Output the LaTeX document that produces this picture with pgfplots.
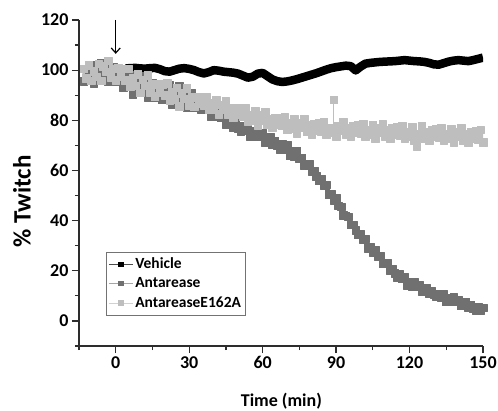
\documentclass[border=0pt]{standalone}
\usepackage{fontspec}
\setmainfont{Carlito}
\usepackage{pgfplots}
\pgfplotsset{compat=1.18}
\usetikzlibrary{arrows.meta}
\definecolor{dkgray}{RGB}{112,112,112}
\definecolor{ltgray}{RGB}{190,190,190}
\definecolor{axgray}{RGB}{45,45,45}
\begin{document}
\begin{tikzpicture}
\begin{axis}[
  scale only axis, width=404pt, height=326pt,
  xmin=-15, xmax=150, ymin=-10, ymax=120,
  axis x line*=bottom, axis y line*=left,
  axis line style={line width=1.2pt, draw=axgray, -},
  xtick={0,30,60,90,120,150}, xticklabels={0,30,60,90,120,150},
  ytick={0,20,40,60,80,100,120}, yticklabels={0,20,40,60,80,100,120},
  minor xtick={-15,15,45,75,105,135}, minor ytick={-10,10,30,50,70,90,110},
  tick align=outside,
  major tick length=7pt, minor tick length=4pt,
  every tick/.style={line width=1.2pt, axgray},
  tick label style={font=\fontsize{18}{20}\selectfont\bfseries, text=black},
  xlabel={Time (min)}, ylabel={\% Twitch},
  xlabel style={font=\fontsize{18}{20}\selectfont\bfseries, at={(axis description cs:0.501,-0.169)}, anchor=center},
  ylabel style={font=\fontsize{25}{27}\selectfont\bfseries, at={(axis description cs:-0.141,0.443)}, anchor=center},
  legend image code/.code={\draw[mark repeat=2,mark phase=2,#1] plot coordinates {(0pt,0pt) (12pt,0pt) (24pt,0pt)};},
  legend style={at={(axis description cs:0.067,0.094)}, anchor=south west, draw=black!55, line width=0.8pt,
    font=\fontsize{15.5}{17}\selectfont\bfseries, inner xsep=2pt, inner ysep=4pt, row sep=3.5pt, cells={anchor=west}},
  legend cell align=left,
]
\addlegendimage{black!70, line width=0.8pt, mark=square*, mark size=2.2pt, mark options={black}}
\addlegendentry{Vehicle}
\addlegendimage{black!35, line width=0.8pt, mark=square*, mark size=2.2pt, mark options={dkgray}}
\addlegendentry{Antarease}
\addlegendimage{black!18, line width=0.8pt, mark=square*, mark size=2.2pt, mark options={ltgray}}
\addlegendentry{AntareaseE162A}

% Antarease
\addplot[forget plot, dkgray, line width=5pt, line join=round, mark=square*, mark size=3.8pt, mark options={line width=0.5pt}] coordinates {
(-13,95.5) (-12,100.6) (-11,97.6) (-10,102.2) (-9,94.7) (-8,99.8) (-7,96.8) (-6,102.9) (-5,98.4) (-4,101.5)
(-3,95.5) (-2,98.7) (-1,101.3) (0,95.5) (1,98.9) (2,95.3) (3,93.2) (4,97.6) (5,94) (6,98.2)
(7,90.4) (8,95.1) (9,91.8) (10,97.5) (11,92.7) (12,95.4) (13,89.1) (14,92.3) (15,95) (16,89.3)
(17,93.1) (18,89.9) (19,88.2) (20,93) (21,89.8) (22,94.1) (23,86.4) (24,91.2) (25,88) (26,93.7)
(27,88.9) (28,91.6) (29,85.3) (30,88.5) (31,91) (32,85) (33,88.5) (34,85) (35,84.5) (36,86.4)
(37,84.3) (38,86) (39,81.6) (40,83.5) (41,81.4) (42,83.8) (43,81) (44,81.9) (45,78.3) (46,79.5)
(47,80.5) (48,77.3) (49,78.8) (50,76.8) (51,75.6) (52,77.7) (53,75.8) (54,77.7) (55,73.5) (56,75.6)
(57,73.7) (58,76.3) (59,73.7) (60,74.8) (61,71.3) (62,72.5) (63,73.5) (64,70.3) (65,71.8) (66,69.8)
(67,68.5) (68,70.5) (69,68.5) (70,70.3) (71,65.8) (72,67.6) (73,65.4) (74,67.7) (75,64.8) (76,65)
(77,62) (78,62.3) (79,62.5) (80,59.6) (81,59.8) (82,57.6) (83,55.9) (84,56.4) (85,54.2) (86,54.3)
(87,50.3) (88,50.7) (89,48.2) (90,48.9) (91,45.9) (92,45.6) (93,42.1) (94,41.9) (95,41.6) (96,38.3)
(97,38.4) (98,36.1) (99,34.3) (100,34.7) (101,32.5) (102,32.8) (103,29) (104,29.6) (105,27.3) (106,28.4)
(107,25.8) (108,25.9) (109,22.8) (110,23) (111,23.2) (112,20.3) (113,20.8) (114,18.9) (115,17.5) (116,18.5)
(117,16.8) (118,17.6) (119,14.3) (120,15.4) (121,13.9) (122,15.6) (123,13.6) (124,14.3) (125,11.8) (126,12.6)
(127,13.3) (128,10.9) (129,11.9) (130,10.5) (131,9.6) (132,10.9) (133,9.5) (134,10.6) (135,7.6) (136,9.1)
(137,7.7) (138,9.5) (139,7.6) (140,8.4) (141,6) (142,6.9) (143,7.7) (144,5.4) (145,6.5) (146,5.1)
(147,4.2) (148,5.5) (149,4.1) (150,5.2)
};

% AntareaseE162A
\addplot[forget plot, ltgray, line width=5pt, line join=round, mark=square*, mark size=3.8pt, mark options={line width=0.5pt}] coordinates {
(-13,100.5) (-12,96.8) (-11,102) (-10,95.8) (-9,99.5) (-8,97.3) (-7,102.5) (-6,95.8) (-5,101.5) (-4,99.4)
(-3,103.8) (-2,97.2) (-1,100.6) (0,96) (1,101) (2,97.5) (3,100.5) (4,96) (5,100.5) (6,93.6)
(7,96.7) (8,93.8) (9,98.4) (10,91) (11,96.2) (12,93.8) (13,98) (14,91.1) (15,94.3) (16,89.4)
(17,94.6) (18,91.2) (19,94.4) (20,90) (21,94.7) (22,87.9) (23,91.1) (24,88.3) (25,93) (26,85.7)
(27,90.9) (28,88.6) (29,92.8) (30,86) (31,89.1) (32,85.4) (33,89.3) (34,86.7) (35,89.2) (36,85.9)
(37,89.4) (38,84.2) (39,86.7) (40,84.5) (41,88) (42,82.4) (43,86.2) (44,84.4) (45,87.5) (46,82.3)
(47,84.7) (48,81) (49,84.8) (50,82.2) (51,84.7) (52,81.4) (53,84.9) (54,79.7) (55,82.2) (56,80)
(57,83.6) (58,78) (59,81.9) (60,80.1) (61,83.3) (62,78.2) (63,80.7) (64,77.1) (65,81) (66,78.5)
(67,81) (68,77.8) (69,81.3) (70,76.2) (71,78.8) (72,76.7) (73,80.4) (74,74.9) (75,78.9) (76,77.2)
(77,80.5) (78,75.4) (79,78) (80,74.4) (81,78.5) (82,76.1) (83,78.8) (84,75.7) (85,79.4) (86,74.4)
(87,77.1) (88,75.1) (89,76.6) (90,73.5) (91,77.6) (92,76) (93,79.4) (94,74.4) (95,77.1) (96,73.6)
(97,77.7) (98,75.3) (99,78) (100,74.9) (101,78.6) (102,73.6) (103,76.3) (104,74.3) (105,78.1) (106,72.7)
(107,76.8) (108,75.2) (109,78.6) (110,73.6) (111,76.3) (112,72.8) (113,76.9) (114,74.5) (115,77.2) (116,74.1)
(117,77.8) (118,72.8) (119,75.5) (120,73.5) (121,77.3) (122,71.9) (123,69.5) (124,74.4) (125,77.8) (126,72.8)
(127,75.5) (128,72) (129,76.1) (130,73.7) (131,76.4) (132,73.3) (133,77) (134,72) (135,74.7) (136,72.7)
(137,76.5) (138,71.1) (139,75.2) (140,73.6) (141,77) (142,72) (143,74.7) (144,71.2) (145,75.3) (146,72.9)
(147,75.6) (148,72.5) (149,76.2) (150,71.2)
};
% single outlier point of AntareaseE162A near 89 min
\addplot[forget plot, ltgray, line width=1pt, mark=square*, mark size=3.5pt] coordinates {(89,76.6) (89,88)};

% Vehicle
\addplot[forget plot, black, line width=8.5pt, line join=round, no marks] coordinates {
(4,100.7) (6,100.8) (8,100.9) (10,100.7) (12,100.6) (14,100.8) (16,100.9) (18,100.4) (20,99.6) (22,99.4)
(24,100) (26,100.6) (28,100.8) (30,100.5) (32,100) (34,99.2) (36,98.7) (38,99.2) (40,100) (42,99.8)
(44,99.4) (46,99.2) (48,99) (50,98.6) (52,97.8) (54,97) (56,97.4) (58,98.6) (60,98.9) (62,97.6)
(64,96.3) (66,95.6) (68,95.3) (70,95.5) (72,95.9) (74,96.4) (76,97) (78,97.6) (80,98.2) (82,98.8)
(84,99.5) (86,100.2) (88,100.8) (90,101.2) (92,101.5) (94,101.8) (96,101.6) (98,99.9) (100,101.4) (102,102.6)
(104,102.9) (106,103.1) (108,103.3) (110,103.4) (112,103.5) (114,103.6) (116,103.8) (118,104) (120,103.8) (122,103.6)
(124,103.5) (126,103.3) (128,102.9) (130,102.3) (132,102.2) (134,102.8) (136,103.4) (138,103.8) (140,104) (142,103.8)
(144,103.6) (146,104) (148,104.5) (150,105)
};

\draw[-{Straight Barb[length=5pt,width=9pt]}, line width=1.2pt, black] (axis cs:0,120) -- (axis cs:0,106.5);
\end{axis}
\pgfresetboundingbox
\path[use as bounding box] ([shift={(-79pt,-64pt)}]current axis.south west) rectangle ([shift={(15pt,20pt)}]current axis.north east);
\end{tikzpicture}
\end{document}
